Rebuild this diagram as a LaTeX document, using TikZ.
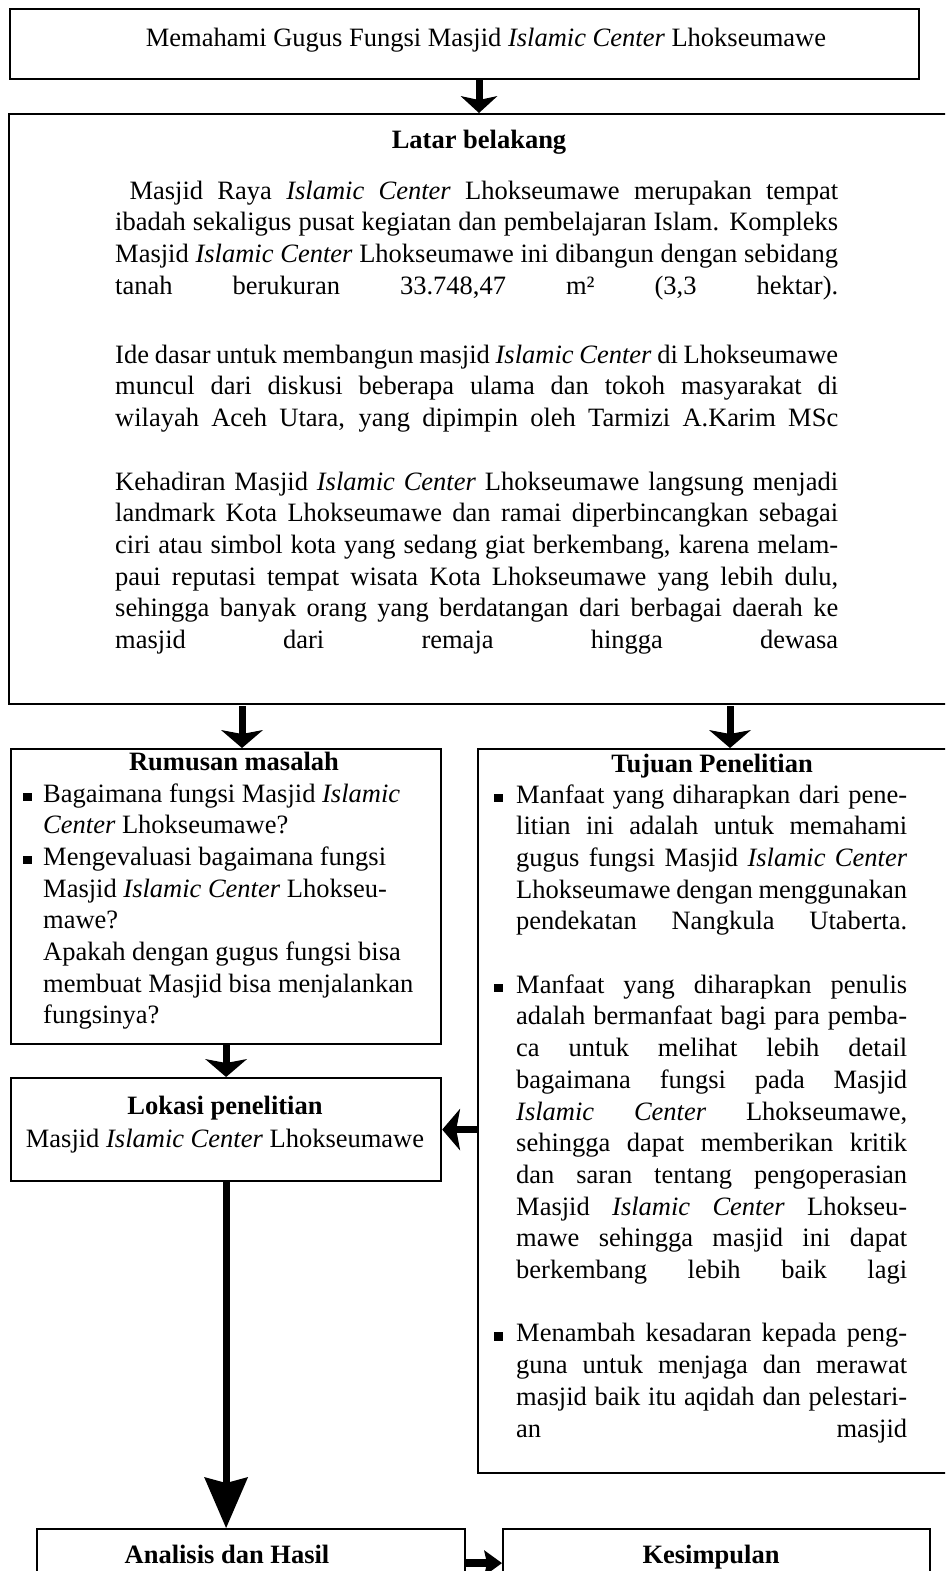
\documentclass[tikz,border=0pt]{standalone}
\usepackage{fontspec}
\setmainfont{Liberation Serif}
\usetikzlibrary{arrows.meta}

\newcommand{\rata}[1]{\hbox to\hsize{#1}}
\newcommand{\kiri}[1]{\hbox{#1}}
\newcommand{\kosong}{\vskip\baselineskip}
\newcommand{\kotak}{\raisebox{1pt}{\rule{9.5pt}{8.5pt}}}

\begin{document}
\begin{tikzpicture}[x=1pt, y=-1pt,
		kotakbox/.style={draw, line width=2.2pt, inner sep=0pt, anchor=north west},
		judulteks/.style={anchor=base, inner sep=0pt, font=\fontsize{26.5}{31.7}\selectfont\bfseries},
		isi/.style={anchor=base west, inner sep=0pt, font=\fontsize{26.5}{31.7}\selectfont},
		panah/.style={line width=7pt, -{Stealth[length=18pt, width=42pt, inset=4pt, line width=0pt]}},
		panahkecil/.style={line width=7pt, -{Stealth[length=17pt, width=37pt, inset=4pt, line width=0pt]}},
		panahbesar/.style={line width=7pt, -{Stealth[length=51pt, width=44pt, inset=6pt, line width=0pt]}},
		panahpendek/.style={line width=8pt, -{Stealth[length=18pt, width=26pt, inset=3pt, line width=0pt]}}]
		\useasboundingbox (0,0) rectangle (945,1571);
		\clip (0,0) rectangle (945,1571);
		
		% kotak
		\node[kotakbox, minimum width=909pt, minimum height=70pt] (judul) at (9,8) {};
		\node[kotakbox, minimum width=945pt, minimum height=590pt] (latar) at (8,113) {};
		\node[kotakbox, minimum width=430pt, minimum height=295pt] (rumusan) at (10,748) {};
		\node[kotakbox, minimum width=480pt, minimum height=724pt] (tujuan) at (477,748) {};
		\node[kotakbox, minimum width=430pt, minimum height=103pt] (lokasi) at (10,1077) {};
		\node[kotakbox, minimum width=428pt, minimum height=68pt] (analisis) at (36,1528) {};
		\node[kotakbox, minimum width=427pt, minimum height=68pt] (simpulan) at (502,1528) {};
		
		% teks
		\node[isi, anchor=base] (judulisi) at (486,47) {Memahami Gugus Fungsi Masjid \textit{Islamic Center} Lhokseumawe};
		\node[judulteks] (latarjudul) at (479,148) {Latar belakang};
		\node[isi] (latar1) at (115,199) {\vtop{\hsize=723pt
				\rata{\ Masjid Raya \textit{Islamic Center} Lhokseumawe merupakan tempat}
				\rata{ibadah sekaligus pusat kegiatan dan pembelajaran Islam. Kompleks}
				\rata{Masjid \textit{Islamic Center} Lhokseumawe ini dibangun dengan sebidang}
				\rata{tanah berukuran 33.748,47 m² (3,3 hektar).}}};
		\node[isi] (latar2) at (115,363) {\vtop{\hsize=723pt
				\rata{Ide dasar untuk membangun masjid \textit{Islamic Center} di Lhokseumawe}
				\rata{muncul dari diskusi beberapa ulama dan tokoh masyarakat di}
				\rata{wilayah Aceh Utara, yang dipimpin oleh Tarmizi A.Karim MSc}}};
		\node[isi] (latar3) at (115,490) {\vtop{\hsize=723pt
				\rata{Kehadiran Masjid \textit{Islamic Center} Lhokseumawe langsung menjadi}
				\rata{landmark Kota Lhokseumawe dan ramai diperbincangkan sebagai}
				\rata{ciri atau simbol kota yang sedang giat berkembang, karena melam-}
				\rata{paui reputasi tempat wisata Kota Lhokseumawe yang lebih dulu,}
				\rata{sehingga banyak orang yang berdatangan dari berbagai daerah ke}
				\rata{masjid dari remaja hingga dewasa}}};
		
		\node[judulteks] (rumusanjudul) at (234,770) {Rumusan masalah};
		\node[isi] (rumusanisi) at (43,802) {\vtop{\hsize=390pt
				\kiri{\llap{\kotak\hspace{11pt}}Bagaimana fungsi Masjid \textit{Islamic}}
				\kiri{\textit{Center} Lhokseumawe?}
				\kiri{\llap{\kotak\hspace{11pt}}Mengevaluasi bagaimana fungsi}
				\kiri{Masjid \textit{Islamic Center} Lhokseu-}
				\kiri{mawe?}
				\kiri{Apakah dengan gugus fungsi bisa}
				\kiri{membuat Masjid bisa menjalankan}
				\kiri{fungsinya?}}};
		
		\node[judulteks] (tujuanjudul) at (712,772) {Tujuan Penelitian};
		\node[isi] (tujuanisi) at (516,803) {\vtop{\hsize=391pt
				\rata{\llap{\kotak\hspace{13pt}}Manfaat yang diharapkan dari pene-}
				\rata{litian ini adalah untuk memahami}
				\rata{gugus fungsi Masjid \textit{Islamic Center}}
				\rata{Lhokseumawe dengan menggunakan}
				\rata{pendekatan Nangkula Utaberta.}
				\kosong
				\rata{\llap{\kotak\hspace{13pt}}Manfaat yang diharapkan penulis}
				\rata{adalah bermanfaat bagi para pemba-}
				\rata{ca untuk melihat lebih detail}
				\rata{bagaimana fungsi pada Masjid}
				\rata{\textit{Islamic Center} Lhokseumawe,}
				\rata{sehingga dapat memberikan kritik}
				\rata{dan saran tentang pengoperasian}
				\rata{Masjid \textit{Islamic Center} Lhokseu-}
				\rata{mawe sehingga masjid ini dapat}
				\rata{berkembang lebih baik lagi}
				\kosong
				\rata{\llap{\kotak\hspace{13pt}}Menambah kesadaran kepada peng-}
				\rata{guna untuk menjaga dan merawat}
				\rata{masjid baik itu aqidah dan pelestari-}
				\rata{an masjid}}};
		
		\node[judulteks] (lokasijudul) at (225,1114) {Lokasi penelitian};
		\node[isi, anchor=base] (lokasiisi) at (225,1147) {Masjid \textit{Islamic Center} Lhokseumawe};
		\node[judulteks] (analisisjudul) at (227,1563) {Analisis dan Hasil};
		\node[judulteks] (simpulanjudul) at (711,1563) {Kesimpulan};
		
		% panah
		\coordinate (panahkiri) at (242,706);
		\coordinate (panahkanan) at (730,706);
		\draw[panahkecil] (latarjudul |- judul.south) -- (latarjudul |- latar.north);
		\draw[panah] (panahkiri) -- (panahkiri |- rumusan.north);
		\draw[panah] (panahkanan) -- (panahkanan |- tujuan.north);
		\draw[panah] (rumusan.south) -- (lokasi.north);
		\draw[panah] (lokasi.east -| tujuan.west) -- (lokasi.east);
		\draw[panahbesar] (lokasi.south) -- (lokasi.south |- analisis.north);
		\draw[panahpendek] (analisis.east) -- (simpulan.west);
		
	\end{tikzpicture}
\end{document}
